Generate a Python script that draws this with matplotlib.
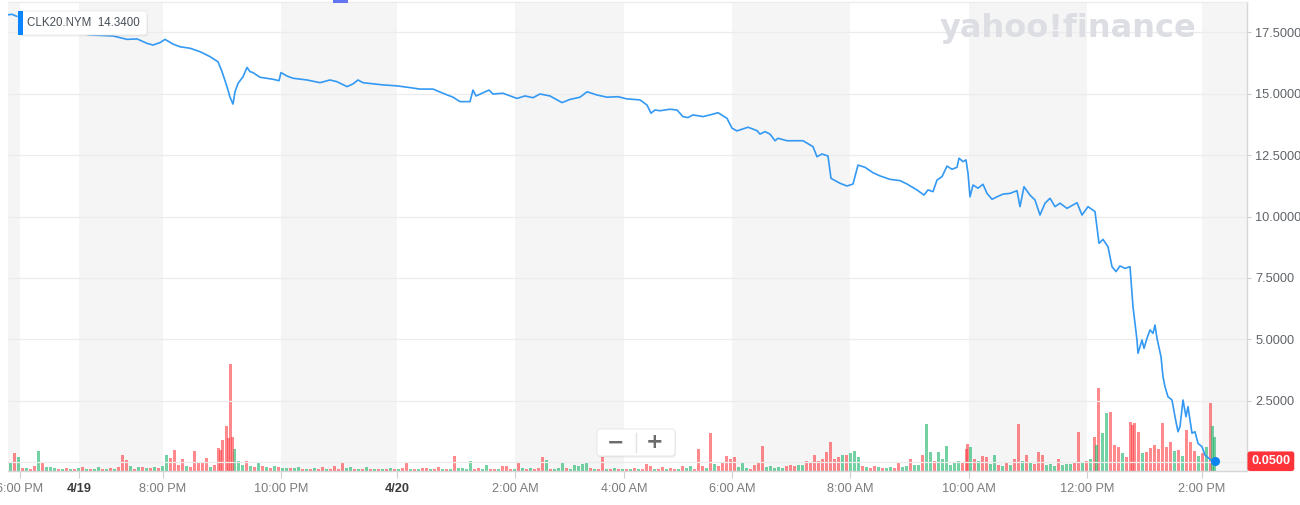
import numpy as np
import matplotlib
matplotlib.use("Agg")
import matplotlib.pyplot as plt
import matplotlib.transforms as mtransforms
from matplotlib.patches import FancyBboxPatch, Rectangle
from matplotlib.lines import Line2D

plt.rcParams['font.family'] = ['Liberation Sans', 'DejaVu Sans']

# ---------------- data ----------------
symbol = "CLK20.NYM"
quote_label = "14.3400"
last_price = 0.05

# x axis is a bar index (Yahoo compresses non-trading gaps)
tick_bars = [12, 71, 155, 273, 389, 507, 616, 724, 842, 961, 1079, 1194]
tick_labels = ["6:00 PM", "4/19", "8:00 PM", "10:00 PM", "4/20", "2:00 AM",
               "4:00 AM", "6:00 AM", "8:00 AM", "10:00 AM", "12:00 PM", "2:00 PM"]
date_labels = ["4/19", "4/20"]
price_ticks = [2.5, 5.0, 7.5, 10.0, 12.5, 15.0, 17.5]
grid_levels = [0.0, 2.5, 5.0, 7.5, 10.0, 12.5, 15.0, 17.5]

price_bar = [
    0, 4, 8, 32, 57, 82, 105, 119, 129, 139,
    145, 152, 157, 165, 172, 182, 192, 202, 210, 214,
    219, 222, 225, 227, 230, 235, 239, 242, 245, 252,
    265, 271, 273, 279, 285, 299, 312, 322, 329, 339,
    345, 350, 355, 375, 389, 402, 412, 425, 435, 445,
    452, 462, 465, 468, 475, 481, 485, 495, 509, 517,
    525, 532, 542, 554, 562, 572, 579, 589, 599, 610,
    619, 632, 639, 643, 647, 652, 662, 669, 675, 680,
    685, 695, 702, 710, 719, 724, 729, 740, 749, 752,
    757, 762, 767, 770, 779, 795, 805, 809, 814, 820,
    823, 832, 839, 845, 850, 857, 865, 872, 882, 892,
    899, 909, 916, 920, 925, 929, 934, 939, 944, 949,
    951, 955, 958, 960, 962, 965, 970, 975, 979, 984,
    989, 995, 1002, 1009, 1012, 1016, 1022, 1027, 1032, 1037,
    1042, 1047, 1052, 1059, 1069, 1074, 1080, 1087, 1091, 1095,
    1100, 1104, 1108, 1112, 1117, 1122, 1125, 1129, 1130, 1134,
    1136, 1139, 1142, 1145, 1147, 1149, 1153, 1155, 1157, 1160,
    1164, 1167, 1170, 1172, 1175, 1178, 1180, 1184, 1187, 1190,
    1194, 1197, 1202, 1207,
]
price_value = [
    18.20, 18.22, 18.15, 17.85, 17.55, 17.38, 17.34, 17.20, 17.22, 17.04,
    16.97, 17.07, 17.20, 17.01, 16.90, 16.84, 16.70, 16.50, 16.29, 15.89,
    15.28, 14.85, 14.57, 15.07, 15.41, 15.68, 16.06, 15.89, 15.85, 15.66,
    15.58, 15.52, 15.85, 15.71, 15.62, 15.55, 15.44, 15.55, 15.48, 15.28,
    15.39, 15.55, 15.44, 15.35, 15.31, 15.24, 15.18, 15.18, 15.01, 14.85,
    14.67, 14.67, 15.14, 14.90, 15.03, 15.14, 14.98, 15.01, 14.80, 14.90,
    14.83, 14.98, 14.90, 14.63, 14.76, 14.85, 15.07, 14.94, 14.85, 14.87,
    14.78, 14.74, 14.53, 14.20, 14.33, 14.30, 14.36, 14.33, 14.06, 14.02,
    14.13, 14.06, 14.13, 14.22, 13.99, 13.59, 13.48, 13.63, 13.49, 13.35,
    13.45, 13.35, 13.08, 13.18, 13.08, 13.08, 12.84, 12.43, 12.54, 12.46,
    11.55, 11.35, 11.24, 11.32, 12.09, 12.00, 11.78, 11.65, 11.51, 11.46,
    11.32, 11.08, 10.87, 11.08, 11.01, 11.48, 11.62, 12.05, 11.92, 12.00,
    12.37, 12.23, 12.30, 11.76, 10.80, 11.28, 11.15, 11.31, 10.94, 10.70,
    10.80, 10.91, 10.94, 11.05, 10.40, 11.21, 10.87, 10.67, 10.06, 10.54,
    10.74, 10.40, 10.54, 10.33, 10.56, 10.06, 10.40, 10.20, 8.91, 9.07,
    8.77, 7.96, 7.76, 7.99, 7.89, 7.96, 6.33, 4.98, 4.44, 4.98,
    4.64, 5.05, 5.39, 5.25, 5.59, 5.05, 4.30, 3.49, 3.08, 2.67,
    2.54, 1.86, 1.25, 1.46, 2.54, 1.86, 2.27, 1.19, 1.25, 0.78,
    0.64, 0.30, 0.13, 0.05,
]

# volume (relative units), one bar every 4th index plus a few extra spikes
vol_bar = list(range(2, 1206, 4)) + [212, 220, 224, 959, 1124, 1088, 1204, 1206]
vol_size = [
    8, 18, 14, 3, 3, 2, 5, 20, 8, 4,
    4, 3, 2, 2, 3, 2, 2, 3, 4, 2,
    2, 2, 4, 2, 2, 3, 2, 4, 16, 11,
    5, 2, 4, 4, 3, 3, 4, 3, 5, 16,
    13, 21, 6, 12, 5, 4, 20, 8, 9, 13,
    4, 6, 23, 31, 45, 107, 22, 10, 6, 10,
    5, 4, 9, 5, 4, 3, 5, 4, 3, 3,
    3, 3, 4, 2, 2, 2, 3, 2, 4, 2,
    2, 5, 2, 8, 3, 4, 2, 2, 2, 4,
    2, 2, 2, 2, 2, 3, 2, 2, 3, 8,
    2, 2, 2, 3, 3, 2, 2, 4, 2, 2,
    2, 15, 3, 3, 2, 10, 2, 3, 2, 6,
    2, 2, 2, 5, 5, 2, 2, 8, 3, 2,
    3, 2, 3, 14, 11, 2, 2, 3, 8, 3,
    2, 6, 5, 7, 8, 3, 2, 2, 14, 2,
    2, 3, 2, 2, 2, 2, 3, 2, 2, 7,
    5, 2, 2, 4, 2, 3, 2, 2, 5, 3,
    5, 2, 22, 5, 3, 38, 7, 5, 8, 15,
    12, 14, 4, 9, 3, 2, 6, 8, 25, 4,
    5, 3, 4, 3, 5, 6, 5, 6, 6, 10,
    8, 16, 10, 12, 19, 29, 12, 14, 16, 16,
    18, 20, 14, 5, 4, 3, 5, 4, 3, 3,
    4, 3, 9, 4, 5, 12, 6, 6, 16, 47,
    19, 10, 19, 12, 25, 6, 8, 10, 8, 22,
    24, 12, 10, 15, 14, 7, 16, 6, 5, 8,
    6, 12, 47, 10, 16, 8, 7, 19, 16, 6,
    7, 5, 12, 6, 7, 7, 8, 39, 8, 10,
    12, 34, 83, 38, 58, 59, 26, 24, 18, 14,
    49, 48, 39, 18, 19, 23, 26, 22, 48, 24,
    29, 20, 21, 15, 41, 29, 20, 15, 18, 24,
    68,
    21, 33, 34, 27, 46, 26, 45, 34,
]
# u = up bar (green), d = down bar (red)
vol_dir = "".join([
    "udududdudu", "uududududu", "duudududdd", "ududududuu", "dddduddddd",
    "uddddduuud", "ududududuu", "duudududdu", "dddduududu", "dududududd",
    "ududduddud", "uduuuudduu", "ddudddudud", "uddduduuud", "uuuuududdu",
    "dududududd", "duddudduDu".lower(), "udddudu" "ddd", "dduuuddddu", "uuuuddduud",
    "ddddddddud", "uuududdudud"[:10], "udduuduudu", "uduuuuuudd", "ududduudud",
    "uddududddu", "uuduuuddud", "udduudddud", "dddudddddd", "duduDddudu".lower(),
    "d",
    "ddddduuu",
])

# ---------------- figure ----------------
W, H = 1300, 505
fig = plt.figure(figsize=(W / 100, H / 100), dpi=100)
x0, x1, ytop, ybot = 8, 1247, 2, 471
rect = [x0 / W, 1 - ybot / H, (x1 - x0) / W, (ybot - ytop) / H]
axv = fig.add_axes(rect)
ax = fig.add_axes(rect, sharex=axv)
ax.patch.set_alpha(0)

xmax = 1239
axv.set_xlim(0, xmax)
axv.set_ylim(0, ybot - ytop)
ax.set_ylim(-0.346, 18.72)

# alternating session bands
edges = [0] + tick_bars + [xmax]
for k in range(len(edges) - 1):
    if k % 2 == 0:
        axv.axvspan(edges[k], edges[k + 1], color='#f5f5f5', lw=0, zorder=0)

# volume bars
n = min(len(vol_bar), len(vol_size), len(vol_dir))
vcols = ['#16b366' if vol_dir[i] == 'u' else '#ff3b42' for i in range(n)]
axv.bar(vol_bar[:n], vol_size[:n], width=3.0, color=vcols, alpha=0.6, lw=0, zorder=2)

# grid
for v in grid_levels:
    ax.axhline(v, color='#ececec', lw=0.9, zorder=0)

# price line
ax.plot(price_bar, price_value, color='#3399f3', lw=1.2, zorder=5, solid_joinstyle='round')
ax.plot(price_bar[-1], price_value[-1], 'o', ms=5.5, color='#0a84f0', zorder=6)

# axes styling
for a in (axv, ax):
    for s in a.spines.values():
        s.set_visible(False)
for side, col in (('right', '#d6d6d6'), ('bottom', '#d6d6d6'), ('top', '#ececec')):
    ax.spines[side].set_visible(True)
    ax.spines[side].set_color(col)
    ax.spines[side].set_linewidth(1.0)

axv.set_yticks([])
axv.tick_params(bottom=False, labelbottom=False, left=False, labelleft=False)

ax.yaxis.tick_right()
ax.set_yticks(price_ticks)
ax.set_yticklabels([f"{v:.4f}" for v in price_ticks])
ax.tick_params(axis='y', length=3, color='#cccccc', labelsize=9.2,
               labelcolor='#5f6368', pad=3)
ax.set_xticks(tick_bars)
ax.set_xticklabels(tick_labels)
ax.tick_params(axis='x', length=5, color='#d0d0d0', labelsize=9.2,
               labelcolor='#7b7b7b', pad=4)
for lbl in ax.get_xticklabels():
    if lbl.get_text() in date_labels:
        lbl.set_fontweight('bold')
        lbl.set_color('#3c3c3c')

# last price tag
trans = mtransforms.blended_transform_factory(ax.transAxes, ax.transData)
ax.text(1.0035, last_price, f"{last_price:.4f}", transform=trans, ha='left', va='center',
        color='white', fontsize=9.2, fontweight='bold', zorder=10, clip_on=False,
        bbox=dict(boxstyle='round,pad=0.3,rounding_size=0.2', fc='#ff333a', ec='none'))

ID = mtransforms.IdentityTransform()


def pbox(x, y, w, h, **kw):
    p = FancyBboxPatch((x, H - y - h), w, h, transform=ID, **kw)
    fig.add_artist(p)
    return p


# legend label box
pbox(19, 12.5, 129, 24, boxstyle='round,pad=0,rounding_size=3', fc='#00000010', ec='none')
pbox(18, 11, 129, 24, boxstyle='round,pad=0,rounding_size=3', fc='white', ec='#e9e9e9', lw=0.6)
fig.add_artist(Rectangle((18, H - 35), 4.5, 24, transform=ID, fc='#0a84ff', ec='none'))
fig.text(27, H - 23.5, f"{symbol}  {quote_label}", transform=ID, ha='left', va='center',
         fontsize=8.3, color='#464e56')

# watermark
fig.text(940, H - 37, "yahoo!finance", transform=ID, ha='left', va='baseline',
         fontsize=23, fontweight='bold', color='#dcdee3', family='DejaVu Sans')

# zoom buttons
pbox(598, 430.5, 78, 27, boxstyle='round,pad=0,rounding_size=3', fc='#00000012', ec='none')
pbox(597, 429, 78, 27, boxstyle='round,pad=0,rounding_size=3', fc='white', ec='#e6e6e6', lw=0.7)
fig.add_artist(Line2D([636, 636], [H - 452, H - 433], transform=ID, color='#e3e3e3', lw=1))
fig.text(616, H - 442.5, "\u2212", transform=ID, ha='center', va='center', fontsize=15,
         fontweight='bold', color='#6b6b6b', family='DejaVu Sans')
fig.text(655, H - 442.5, "+", transform=ID, ha='center', va='center', fontsize=15,
         fontweight='bold', color='#6b6b6b', family='DejaVu Sans')

# small blue tab at the top edge
fig.add_artist(Rectangle((333, H - 3), 15, 3, transform=ID, fc='#6473f2', ec='none'))

fig.savefig('out.png', dpi=100)
